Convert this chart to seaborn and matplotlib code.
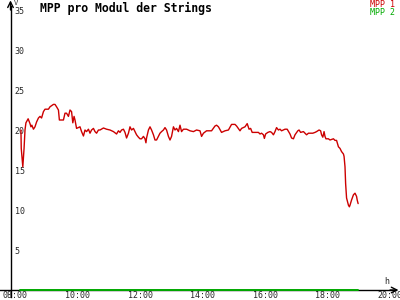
import matplotlib
matplotlib.use("Agg")
import matplotlib.pyplot as plt
import seaborn as sns
import pandas as pd

# ---- data ----
mpp1_hours = [8.19, 8.20, 8.25, 8.29, 8.32, 8.35, 8.42, 8.48, 8.51, 8.54, 8.59, 8.64, 8.69, 8.75,
              8.80, 8.85, 8.91, 8.96, 9.07, 9.12, 9.23, 9.28, 9.33, 9.39, 9.42, 9.55, 9.60, 9.65,
              9.71, 9.76, 9.81, 9.85, 9.89, 9.92, 9.97, 10.08, 10.13, 10.19, 10.24, 10.29, 10.35,
              10.40, 10.45, 10.51, 10.56, 10.61, 10.67, 10.72, 10.83, 10.93, 11.04, 11.15, 11.25,
              11.31, 11.36, 11.41, 11.47, 11.52, 11.57, 11.63, 11.68, 11.73, 11.79, 11.84, 11.89,
              11.95, 12.00, 12.05, 12.11, 12.16, 12.19, 12.21, 12.27, 12.32, 12.37, 12.43, 12.48,
              12.53, 12.59, 12.64, 12.69, 12.75, 12.80, 12.85, 12.91, 12.96, 13.01, 13.07, 13.12,
              13.17, 13.23, 13.28, 13.33, 13.39, 13.49, 13.60, 13.71, 13.81, 13.92,
              13.97, 14.03, 14.13, 14.29, 14.40, 14.45, 14.51, 14.61, 14.72, 14.83, 14.93, 15.04,
              15.09, 15.20, 15.25, 15.36, 15.43, 15.49, 15.54, 15.59, 15.68, 15.79, 15.84, 15.89,
              15.95, 15.98, 16.02, 16.09, 16.16, 16.21, 16.27, 16.32, 16.37, 16.43, 16.48, 16.53,
              16.64, 16.71, 16.80, 16.85, 16.91, 16.96, 17.05, 17.09, 17.14, 17.23, 17.28, 17.33,
              17.39, 17.44, 17.53, 17.60, 17.65, 17.73, 17.78, 17.81, 17.85, 17.89, 17.92, 17.95,
              18.03, 18.08, 18.19, 18.24, 18.29, 18.35, 18.40, 18.45, 18.51, 18.53, 18.56, 18.58,
              18.61, 18.67, 18.70, 18.72, 18.77, 18.83, 18.88, 18.93, 18.95, 18.98]
mpp1_values = [20.0, 17.7, 15.4, 17.7, 20.0, 20.9, 21.4, 20.8, 20.4, 20.6, 20.1, 20.4, 21.0, 21.5,
               21.7, 21.5, 22.3, 22.6, 22.6, 22.9, 23.2, 23.2, 22.9, 22.5, 21.25, 21.25, 22.1, 22.1,
               21.7, 22.5, 22.3, 20.9, 21.7, 21.25, 20.2, 20.4, 19.8, 19.25, 20.0, 19.8, 20.1,
               19.6, 20.0, 20.2, 19.8, 19.6, 20.0, 20.0, 20.25, 20.1, 20.0, 19.8, 19.5,
               19.9, 19.7, 20.0, 20.1, 19.7, 19.0, 19.6, 20.4, 20.0, 20.2, 19.8, 19.4,
               19.1, 18.9, 18.9, 19.2, 18.9, 18.4, 19.0, 20.0, 20.4, 20.0, 19.4, 18.75,
               18.75, 19.2, 19.6, 19.8, 20.0, 20.3, 20.0, 19.2, 18.75, 19.2, 20.4, 20.0,
               20.2, 19.8, 20.6, 19.8, 20.1, 20.1, 19.9, 19.8, 20.0, 19.9,
               19.2, 19.6, 19.9, 19.9, 20.5, 20.6, 20.4, 19.7, 19.9, 20.0, 20.7, 20.7,
               20.5, 19.9, 20.2, 20.4, 20.8, 20.1, 20.2, 19.7, 19.7, 19.7, 19.5, 19.6,
               19.4, 18.95, 19.5, 19.7, 19.8, 19.7, 19.4, 19.8, 20.3, 20.0, 20.1, 19.9,
               20.1, 20.1, 19.5, 19.0, 18.9, 19.4, 19.9, 20.0, 19.7, 19.8, 19.6, 19.4,
               19.6, 19.6, 19.6, 19.7, 19.8, 20.0, 19.9, 19.4, 19.1, 19.8, 19.2, 18.9,
               18.9, 18.75, 18.9, 18.7, 18.7, 17.9, 17.7, 17.3, 17.0, 16.7, 15.4, 13.3,
               11.5, 10.6, 10.4, 10.6, 11.25, 11.9, 12.1, 11.7, 11.25, 10.8]
mpp2_hours = [8.16, 18.97]
mpp2_values = [0.0, 0.0]

series_names = ["MPP 1", "MPP 2"]
series_colors = ["#cc0000", "#00aa00"]
x_ticks = [8, 10, 12, 14, 16, 18, 20]
x_tick_labels = ["08:00", "10:00", "12:00", "14:00", "16:00", "18:00", "20:00"]
y_ticks = [5, 10, 15, 20, 25, 30, 35]
title = "MPP pro Modul der Strings"

df1 = pd.DataFrame({"h": mpp1_hours, "v": mpp1_values})
df2 = pd.DataFrame({"h": mpp2_hours, "v": mpp2_values})

sns.set_style("white")
plt.rcParams["font.family"] = ["DejaVu Sans Mono", "DejaVu Sans"]

fig = plt.figure(figsize=(4, 3), dpi=100)
ax = fig.add_axes([0, 0, 1, 1])
ax.set_facecolor("white")

x0, x1 = 7.52, 20.32
y0, y1 = -1.25, 36.25
ax.set_xlim(x0, x1)
ax.set_ylim(y0, y1)
yaxis_x = 7.856

for s in ["top", "right"]:
    ax.spines[s].set_visible(False)
ax.spines["left"].set_position(("data", yaxis_x))
ax.spines["bottom"].set_position(("data", 0))
ax.spines["left"].set_bounds(-0.875, 35.5)
ax.spines["bottom"].set_bounds(x0, 20.2)
for s in ["left", "bottom"]:
    ax.spines[s].set_color("black")
    ax.spines[s].set_linewidth(1.0)

# axis arrows
ax.annotate("", xy=(20.27, 0), xytext=(20.0, 0),
            arrowprops=dict(arrowstyle="->", lw=1, color="black", shrinkA=0, shrinkB=0),
            annotation_clip=False)
ax.annotate("", xy=(yaxis_x, 36.2), xytext=(yaxis_x, 35.0),
            arrowprops=dict(arrowstyle="->", lw=1, color="black", shrinkA=0, shrinkB=0),
            annotation_clip=False)

sns.lineplot(data=df1, x="h", y="v", ax=ax, color=series_colors[0], lw=1.0, sort=False, zorder=3)
sns.lineplot(data=df2, x="h", y="v", ax=ax, color=series_colors[1], lw=1.4, sort=False,
             zorder=4, clip_on=False)

ax.set_xticks(x_ticks)
ax.set_xticklabels(x_tick_labels, fontsize=6)
ax.set_yticks(y_ticks)
ax.set_yticklabels([str(t) for t in y_ticks], fontsize=6)
ax.tick_params(axis="both", direction="inout", length=5, width=1, color="black")
ax.tick_params(axis="x", pad=-1.8)
ax.tick_params(axis="y", pad=-5.5)
for lab in ax.get_yticklabels():
    lab.set_horizontalalignment("left")
ax.set_xlabel("")
ax.set_ylabel("")
ax.grid(False)

# title, unit labels, legend
fig.text(40 / 400, 1 - 8 / 300, title, fontsize=8.3, fontweight="bold",
         ha="left", va="center", color="black")
fig.text(14 / 400, 1 - 3 / 300, "V", fontsize=5, ha="left", va="center")
fig.text(387 / 400, 1 - 282 / 300, "h", fontsize=6, ha="center", va="center")
fig.text(395 / 400, 1 - 4.5 / 300, series_names[0], fontsize=6, color=series_colors[0],
         ha="right", va="center")
fig.text(395 / 400, 1 - 12.5 / 300, series_names[1], fontsize=6, color=series_colors[1],
         ha="right", va="center")

fig.savefig("out.png", dpi=100)
